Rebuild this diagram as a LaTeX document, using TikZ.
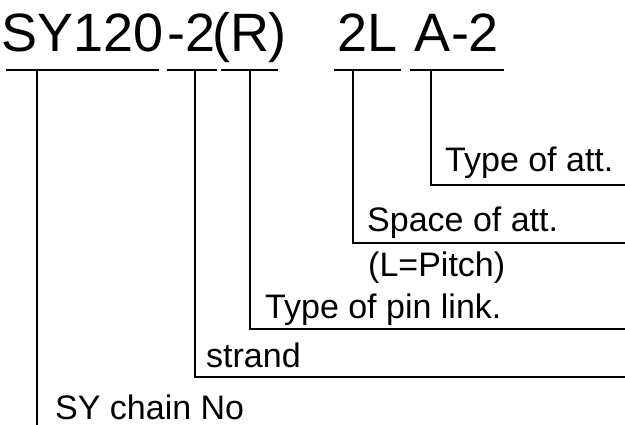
\documentclass[tikz,border=0pt]{standalone}
\usepackage{fontspec}
\setmainfont{Liberation Sans}

\begin{document}
\begin{tikzpicture}[x=1pt, y=-1pt,
    code/.style={font=\fontsize{54}{60}\selectfont, anchor=base, inner xsep=-9pt, inner ysep=18pt, text depth=0pt},
    note/.style={font=\fontsize{34}{40}\selectfont, anchor=base west, inner sep=0pt, text depth=0pt},
    lead/.style={line width=1.8pt}]
    \fill[white] (0,0) rectangle (625,425);
    \useasboundingbox (0,0) rectangle (625,425);

    % model number, split into its parts
    \node[code, minimum width=153pt] (sy) at (82.5,52) {SY120};
    \node[code, minimum width=50pt] (str) at (192,52) {-2};
    \node[code, minimum width=55pt] (pin) at (249.5,52) {(R)};
    \node[code, minimum width=67pt] (sp) at (367.5,52) {2L};
    \node[code, minimum width=94pt] (att) at (457,52) {A-2};
    \foreach \n in {sy,str,pin,sp,att}
        \draw[lead] (\n.south west) -- (\n.south east);

    % corners of the leaders
    \coordinate (edge) at (625,0);
    \coordinate (ksy) at (37,425);
    \coordinate (kstr) at (195,377);
    \coordinate (kpin) at (250,329);
    \coordinate (ksp) at (353,243);
    \coordinate (katt) at (431,185);

    \node[note] (tatt) at (445,172) {Type of att.};
    \node[note] (tsp) at (367,232) {Space of att.};
    \node[note] (tpitch) at (368,277) {(L=Pitch)};
    \node[note] (tpin) at (265,319) {Type of pin link.};
    \node[note] (tstr) at (206,367) {strand};
    \node[note] (tsy) at (55,419) {SY chain No};

    \draw[lead] (ksy |- sy.south) -- (ksy);
    \draw[lead] (kstr |- str.south) -- (kstr) -- (kstr -| edge);
    \draw[lead] (kpin |- pin.south) -- (kpin) -- (kpin -| edge);
    \draw[lead] (ksp |- sp.south) -- (ksp) -- (ksp -| edge);
    \draw[lead] (katt |- att.south) -- (katt) -- (katt -| edge);
\end{tikzpicture}
\end{document}
